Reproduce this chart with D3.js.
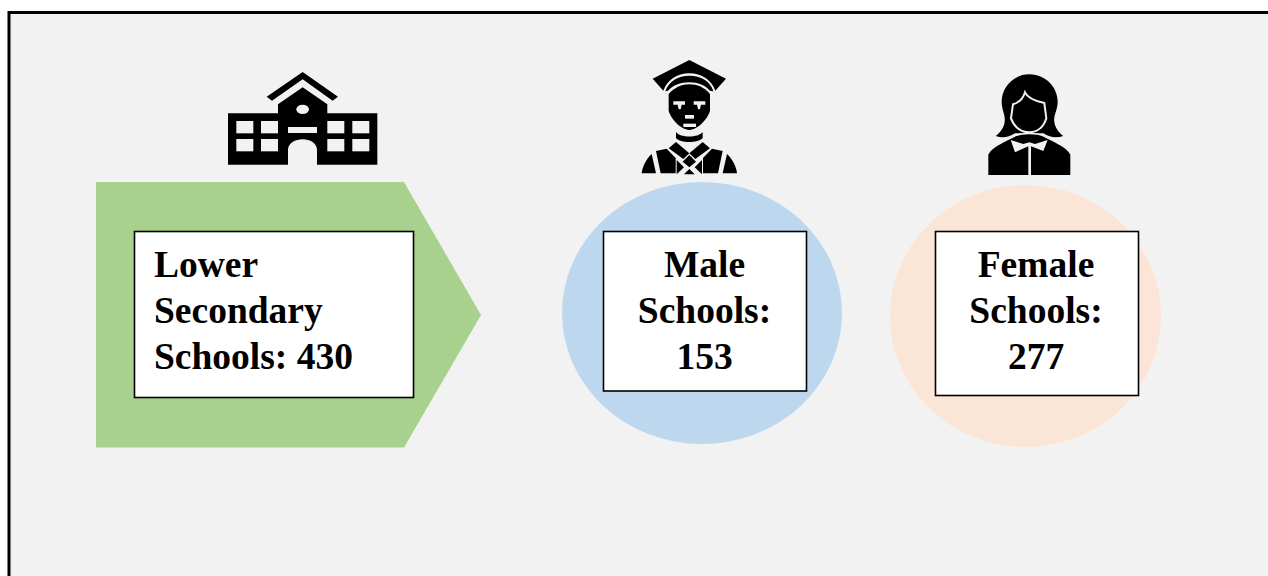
<!DOCTYPE html>
<html>
<head>
<meta charset="utf-8">
<script src="https://cdn.jsdelivr.net/npm/d3@7"></script>
<style>
html, body { margin: 0; padding: 0; background: #fff; overflow: hidden; }
</style>
</head>
<body>
<script>
// values
var categories = ["Lower Secondary Schools", "Male Schools", "Female Schools"];
var schoolCounts = [430, 153, 277];

var width = 1268;
var height = 576;
var bg = "#f2f2f2";

var svg = d3.select("body").append("svg")
	.attr("width", width)
	.attr("height", height)
	.style("display", "block");

// outer frame, runs off the right and bottom of the page
svg.append("rect")
	.attr("x", 9).attr("y", 12.5)
	.attr("width", width + 20).attr("height", height + 20)
	.attr("fill", bg)
	.attr("stroke", "#000")
	.attr("stroke-width", 3);

// background shapes
svg.append("path")
	.attr("d", "M96,182L404,182L481,315L404,447.5L96,447.5Z")
	.attr("fill", "#a9d18e");
svg.append("ellipse")
	.attr("cx", 702).attr("cy", 313).attr("rx", 140).attr("ry", 131)
	.attr("fill", "#bdd7ee");
svg.append("ellipse")
	.attr("cx", 1025.5).attr("cy", 316).attr("rx", 135.5).attr("ry", 131)
	.attr("fill", "#fbe5d6");

// label boxes, one per category
var boxLayout = [
	{x: 134.5, y: 231.5, w: 279, h: 166, anchor: "start", tx: 154},
	{x: 603.5, y: 231.5, w: 203, h: 159.5, anchor: "middle", tx: 704.5},
	{x: 935.5, y: 231.5, w: 203, h: 164, anchor: "middle", tx: 1036}
];

function labelLines(i) {
	var words = categories[i].replace(" Schools", "").split(" ");
	if (i == 0) return [words[0], words[1], "Schools: " + schoolCounts[i]];
	return [words[0], "Schools:", String(schoolCounts[i])];
}

var boxes = svg.selectAll(".box")
	.data(categories)
	.enter()
	.append("g")
	.attr("class", "box");

boxes.append("rect")
	.attr("x", function(d, i){ return boxLayout[i].x; })
	.attr("y", function(d, i){ return boxLayout[i].y; })
	.attr("width", function(d, i){ return boxLayout[i].w; })
	.attr("height", function(d, i){ return boxLayout[i].h; })
	.attr("fill", "#fff")
	.attr("stroke", "#000")
	.attr("stroke-width", 1.6);

boxes.each(function(d, i){
	d3.select(this).selectAll("text")
		.data(labelLines(i))
		.enter()
		.append("text")
		.attr("x", boxLayout[i].tx)
		.attr("y", function(t, j){ return 277 + j * 46; })
		.attr("text-anchor", boxLayout[i].anchor)
		.attr("font-family", "'Liberation Serif', serif")
		.attr("font-weight", "bold")
		.attr("font-size", "37.5px")
		.attr("fill", "#000")
		.text(function(t){ return t; });
});

// school icon
var school = svg.append("g").attr("transform", "translate(210,60) scale(0.3333)");
school.append("path").attr("fill", "#000")
	.attr("d", "M170,110L278,36L384,110L368,122L278,58L186,122Z");
school.append("path").attr("fill", "#000")
	.attr("d", "M54,160L204,160L204,133L278,82L352,133L352,160L502,160L502,314L321,314L321,270C321,250 300,238 278,238C256,238 234,250 234,270L234,314L54,314Z");
school.selectAll(".win")
	.data([[79,183],[153,183],[352,183],[427,183],[79,237],[153,237],[352,237],[427,237]])
	.enter().append("rect")
	.attr("x", function(d){ return d[0]; })
	.attr("y", function(d){ return d[1]; })
	.attr("width", 51).attr("height", 37)
	.attr("fill", bg);
school.append("rect").attr("x", 234).attr("y", 201).attr("width", 87).attr("height", 18).attr("fill", bg);
school.append("ellipse").attr("cx", 278).attr("cy", 148).attr("rx", 19).attr("ry", 14).attr("fill", bg);

// graduate icon
var male = svg.append("g").attr("transform", "translate(630,50) scale(0.3333)");
var maleBlack = [
	"M178,30L288,86L256,122C245,90 215,70 178,70C140,70 112,90 100,122L68,86Z",
	"M106,124C116,94 145,77 178,77C212,77 242,94 250,124L240,122C225,106 205,97 178,97C150,97 130,106 114,122Z",
	"M116,132C135,112 155,103 178,103C202,103 222,112 240,132L240,182C234,205 205,238 178,240C150,238 122,205 116,182Z",
	"M138,246C150,264 205,264 218,246L218,264C205,280 150,280 138,264Z",
	"M35,370C37,350 48,328 65,312L78,370Z",
	"M321,370C319,350 308,328 291,312L278,370Z",
	"M78,303L110,296L137,324L137,370L92,370Z",
	"M278,303L246,296L219,324L219,370L264,370Z",
	"M116,295L138,276L178,310L160,327Z",
	"M240,295L218,276L178,310L196,327Z",
	"M178,315L198,335L178,352L158,335Z",
	"M140,330L162,352L140,373Z",
	"M216,330L194,352L216,373Z",
	"M178,357L194,373L162,373Z"
];
male.selectAll(".blk").data(maleBlack).enter().append("path")
	.attr("d", function(d){ return d; })
	.attr("fill", "#000");
var maleLight = [
	"M130,154L165,154L165,164L155,164L152,178L146,178L143,164L130,164Z",
	"M226,154L191,154L191,164L201,164L204,178L210,178L213,164L226,164Z",
	"M165,195L192,195L192,206L165,206Z",
	"M160,221L198,221L198,231L160,231Z"
];
male.selectAll(".lit").data(maleLight).enter().append("path")
	.attr("d", function(d){ return d; })
	.attr("fill", bg);

// female icon
var female = svg.append("g").attr("transform", "translate(975,65) scale(0.3333)");
female.append("path").attr("fill", "#000")
	.attr("d", "M163,28C215,28 248,70 248,110C248,135 235,150 238,170C240,190 255,205 265,213C245,220 225,218 205,205L120,205C100,218 82,220 62,213C72,205 87,190 89,170C92,150 80,135 80,110C80,70 112,28 163,28Z");
female.append("path").attr("fill", "#000")
	.attr("stroke", bg).attr("stroke-width", 6)
	.attr("d", "M150,82C158,100 180,108 208,114L214,160C205,188 185,202 163,202C140,202 118,188 108,160L114,118C135,112 145,100 150,82Z");
female.append("path").attr("fill", "#000")
	.attr("stroke", bg).attr("stroke-width", 4)
	.attr("d", "M38,332L38,268C50,245 85,230 120,213C140,203 185,203 205,213C240,230 275,245 288,268L288,332Z");
female.append("path").attr("fill", bg)
	.attr("d", "M107,225L145,237L163,232L180,237L218,225L205,258L168,244L168,330L160,330L160,244L120,262Z");
</script>
</body>
</html>
